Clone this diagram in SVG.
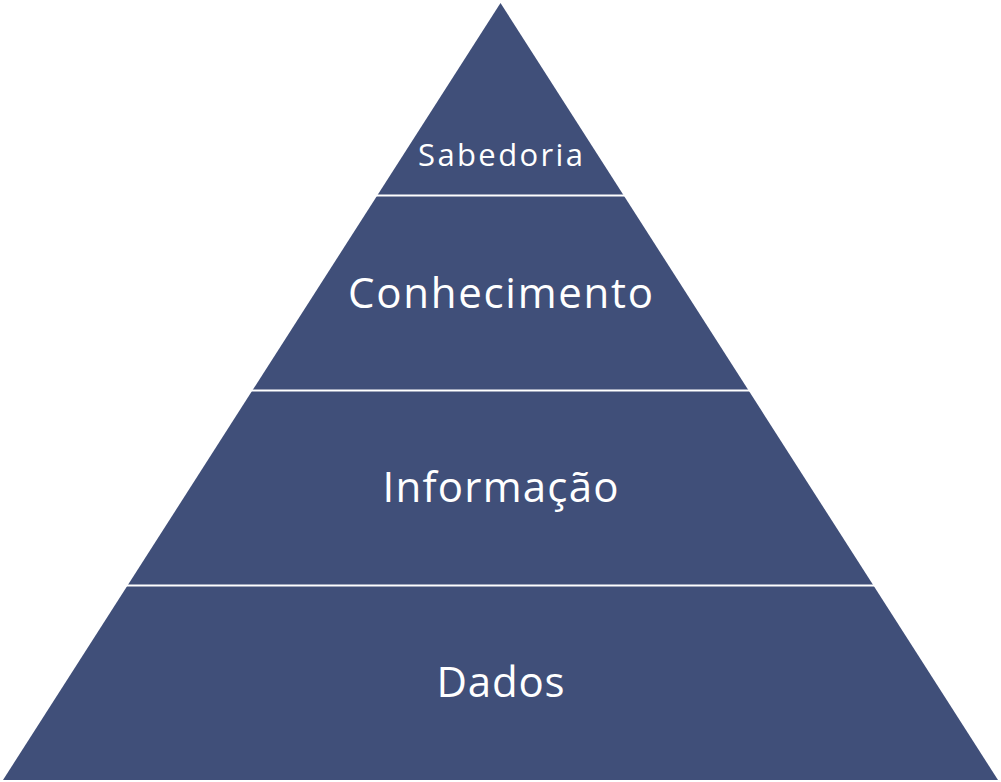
<svg xmlns="http://www.w3.org/2000/svg" width="1001" height="782" viewBox="0 0 1001 782">
<style>
.tier{fill:#404F79}
.sep{stroke:#FFFFFF;stroke-width:2}
.lbl{fill:#FFFFFF;font-family:"Open Sans","DejaVu Sans",sans-serif;text-anchor:middle}
</style>
<rect width="1001" height="782" fill="#FFFFFF"/>
<g id="pyramid">
<polygon class="tier" points="500.5,3 998,780 3,780"/>
</g>
<g id="connectors">
<line class="sep" x1="0" y1="195.5" x2="1001" y2="195.5"/>
<line class="sep" x1="0" y1="390.5" x2="1001" y2="390.5"/>
<line class="sep" x1="0" y1="585.5" x2="1001" y2="585.5"/>
</g>
<g id="sabedoria"><text class="lbl" x="500.5" y="166" font-size="31" textLength="165">Sabedoria</text></g>
<g id="conhecimento"><text class="lbl" x="500.5" y="308" font-size="42" textLength="305">Conhecimento</text></g>
<g id="informacao"><text class="lbl" x="500.5" y="502" font-size="42" textLength="236">Informação</text></g>
<g id="dados"><text class="lbl" x="500.5" y="697" font-size="42" textLength="128">Dados</text></g>
</svg>
